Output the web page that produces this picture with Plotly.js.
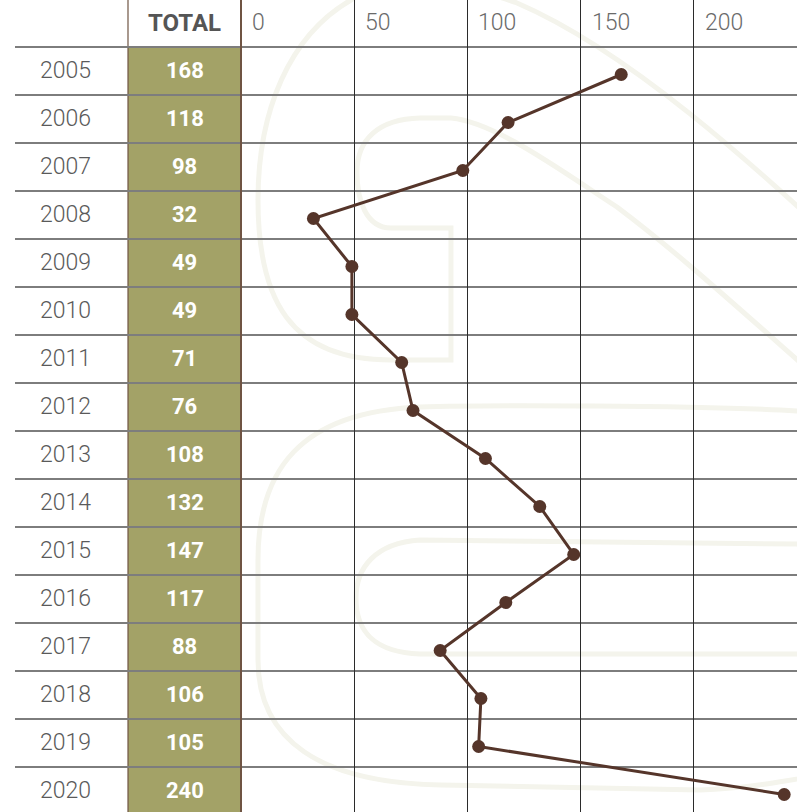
<!DOCTYPE html>
<html>
<head>
<meta charset="utf-8">
<script src="https://cdn.plot.ly/plotly-3.0.1.min.js"></script>
<style>
  html, body { margin: 0; padding: 0; background: #ffffff; }
  #chart { width: 797px; height: 812px; }
</style>
</head>
<body>
<div id="chart"></div>
<script>
// ---- data ----
const years = ["2005","2006","2007","2008","2009","2010","2011","2012","2013","2014","2015","2016","2017","2018","2019","2020"];
const totals = [168, 118, 98, 32, 49, 49, 71, 76, 108, 132, 147, 117, 88, 106, 105, 240];
const tickValues = [0, 50, 100, 150, 200];
const tickLabels = ["0", "50", "100", "150", "200"];
const headerLabel = "TOTAL";

// ---- layout helpers (pixel geometry of the table frame) ----
const W = 797, H = 812;
const px = x => x / W;              // horizontal pixel -> paper
const py = y => 1 - y / H;          // vertical pixel -> paper
const idx = years.map((_, i) => i);
const ROW_SHIFT = -0.075;           // table rows sit slightly above the markers

const FONT = "Roboto, 'Open Sans', sans-serif";
const WM = "#f4f4ec"; // watermark colour

function wmPath(d) {
  return d.replace(/(-?\d+(?:\.\d+)?),(-?\d+(?:\.\d+)?)/g,
    (m, a, b) => px(+a).toFixed(5) + "," + py(+b).toFixed(5));
}

const shapes = [];
// faint background logo
[
  "M 900,300 C 800,210 650,60 517,3 C 440,-25 380,-20 351,0 C 290,35 258,110 258,200 C 258,300 290,360 391,360 L 451,360 L 451,228 L 391,228 C 366,228 357,200 357,172 C 357,140 378,119 420,118 L 451,118 C 495,122 560,170 617,207 C 690,262 745,315 900,450",
  "M 900,413 L 797,411 C 700,405 480,405 420,407 C 300,412 258,470 258,560 L 258,660 C 258,740 320,783 441,785 L 700,790 C 740,789 770,785 900,760",
  "M 900,545 L 797,544 L 420,540 C 375,543 356,568 356,598 C 356,630 372,652 420,654 L 797,654 L 900,652"
].forEach(d => shapes.push({
  type: "path", path: wmPath(d), xref: "paper", yref: "paper",
  line: { color: WM, width: 5 }, layer: "below"
}));

// green TOTAL column
shapes.push({
  type: "rect", xref: "paper", yref: "y",
  x0: px(128), x1: px(241), y0: -0.5 + ROW_SHIFT, y1: years.length + 1,
  fillcolor: "#a3a267", line: { width: 0 }, layer: "below"
});
// left border of the TOTAL column
shapes.push({
  type: "line", xref: "paper", yref: "paper",
  x0: px(128), x1: px(128), y0: 0, y1: 1,
  line: { color: "#6f5443", width: 1.2 }, layer: "between"
});
// row separators
for (let i = 0; i <= years.length; i++) {
  shapes.push({
    type: "line", xref: "paper", yref: "y",
    x0: px(15), x1: 1, y0: i - 0.5 + ROW_SHIFT, y1: i - 0.5 + ROW_SHIFT,
    line: { color: "#7d7d7d", width: 2 }, layer: "between"
  });
}

const annotations = [];
// header
annotations.push({
  xref: "paper", yref: "y", x: px(184.5), y: -1 + ROW_SHIFT, text: "<b>" + headerLabel + "</b>",
  showarrow: false, xanchor: "center", yanchor: "middle",
  font: { family: FONT, size: 24, color: "#555555" }
});
// x tick labels (top row, right of each grid line)
tickValues.forEach((v, k) => annotations.push({
  xref: "x", yref: "y", x: v, y: -1 + ROW_SHIFT, text: tickLabels[k],
  showarrow: false, xanchor: "left", yanchor: "middle", xshift: 9,
  font: { family: FONT, size: 23, color: "#6a6a6a", weight: 300 }
}));
// year labels and totals
idx.forEach(i => {
  annotations.push({
    xref: "paper", yref: "y", x: px(65), y: i + ROW_SHIFT, text: years[i],
    showarrow: false, xanchor: "center", yanchor: "middle",
    font: { family: FONT, size: 23, color: "#5a5a5a", weight: 300 }
  });
  annotations.push({
    xref: "paper", yref: "y", x: px(184.5), y: i + ROW_SHIFT, text: "<b>" + totals[i] + "</b>",
    showarrow: false, xanchor: "center", yanchor: "middle",
    font: { family: FONT, size: 22, color: "#ffffff" }
  });
});

const trace = {
  type: "scatter", mode: "lines+markers",
  x: totals, y: idx,
  line: { color: "#55352a", width: 3 },
  marker: { color: "#55352a", size: 13 },
  hoverinfo: "x+text", text: years, cliponaxis: false
};

const layout = {
  width: W, height: H,
  margin: { l: 0, r: 0, t: 0, b: 0, pad: 0 },
  paper_bgcolor: "#ffffff", plot_bgcolor: "rgba(0,0,0,0)",
  showlegend: false,
  xaxis: {
    range: [(0 - 241) / 2.2633, (W - 241) / 2.2633],
    tickmode: "array", tickvals: tickValues, showticklabels: false, ticks: "",
    showgrid: true, gridcolor: "#2b2b2b", gridwidth: 1.2,
    zeroline: true, zerolinecolor: "#6f5443", zerolinewidth: 1.2,
    showline: false, fixedrange: true
  },
  yaxis: {
    range: [(H - 74.5) / 48, (0 - 74.5) / 48],
    showgrid: false, zeroline: false, showticklabels: false, ticks: "",
    showline: false, fixedrange: true
  },
  shapes: shapes,
  annotations: annotations,
  font: { family: FONT }
};

Plotly.newPlot("chart", [trace], layout, { displayModeBar: false, staticPlot: true });
</script>
</body>
</html>
